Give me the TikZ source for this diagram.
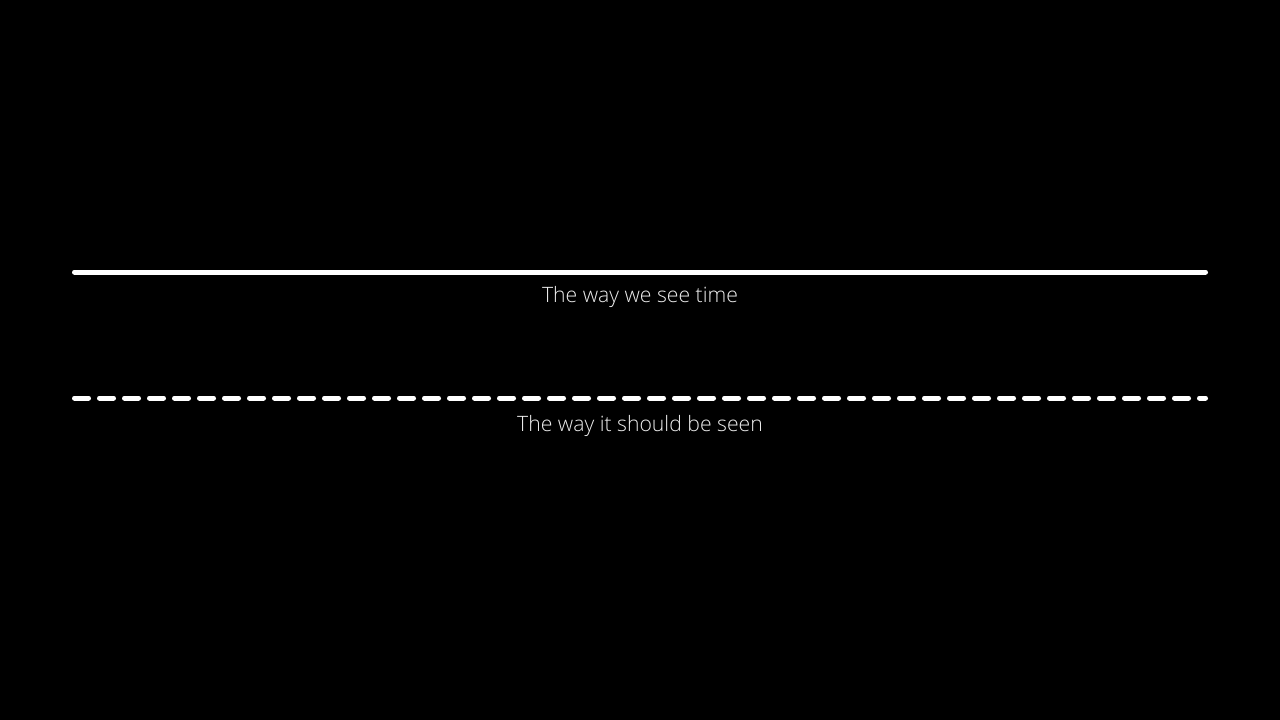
\documentclass[tikz,border=0pt]{standalone}
\usepackage{fontspec}
\setmainfont{Open Sans Light}
\usetikzlibrary{positioning}

\begin{document}
\begin{tikzpicture}[
    x=1pt, y=1pt,
    timeline/.style={draw=white, line width=5pt, line cap=round},
    caption/.style={text=white!93!black, font=\fontsize{21.2}{24}\selectfont, anchor=base, inner sep=0pt}
]

% Background
\fill[black] (0,0) rectangle (1280,-720);
\useasboundingbox (0,0) rectangle (1280,-720);

% Solid line
\coordinate (seestart) at (74.5,-272);
\coordinate (seeend) at (1205.5,-272);
\draw[timeline] (seestart) -- (seeend);
\node[caption] (seelabel) at (640,-302) {The way we see time};

% Dashed line
\coordinate (shouldstart) at (74.5,-398);
\coordinate (shouldend) at (1205.5,-398);
\draw[timeline, dash pattern=on 14pt off 11pt] (shouldstart) -- (shouldend);
\node[caption] (shouldlabel) at (640,-431) {The way it should be seen};

\end{tikzpicture}
\end{document}
